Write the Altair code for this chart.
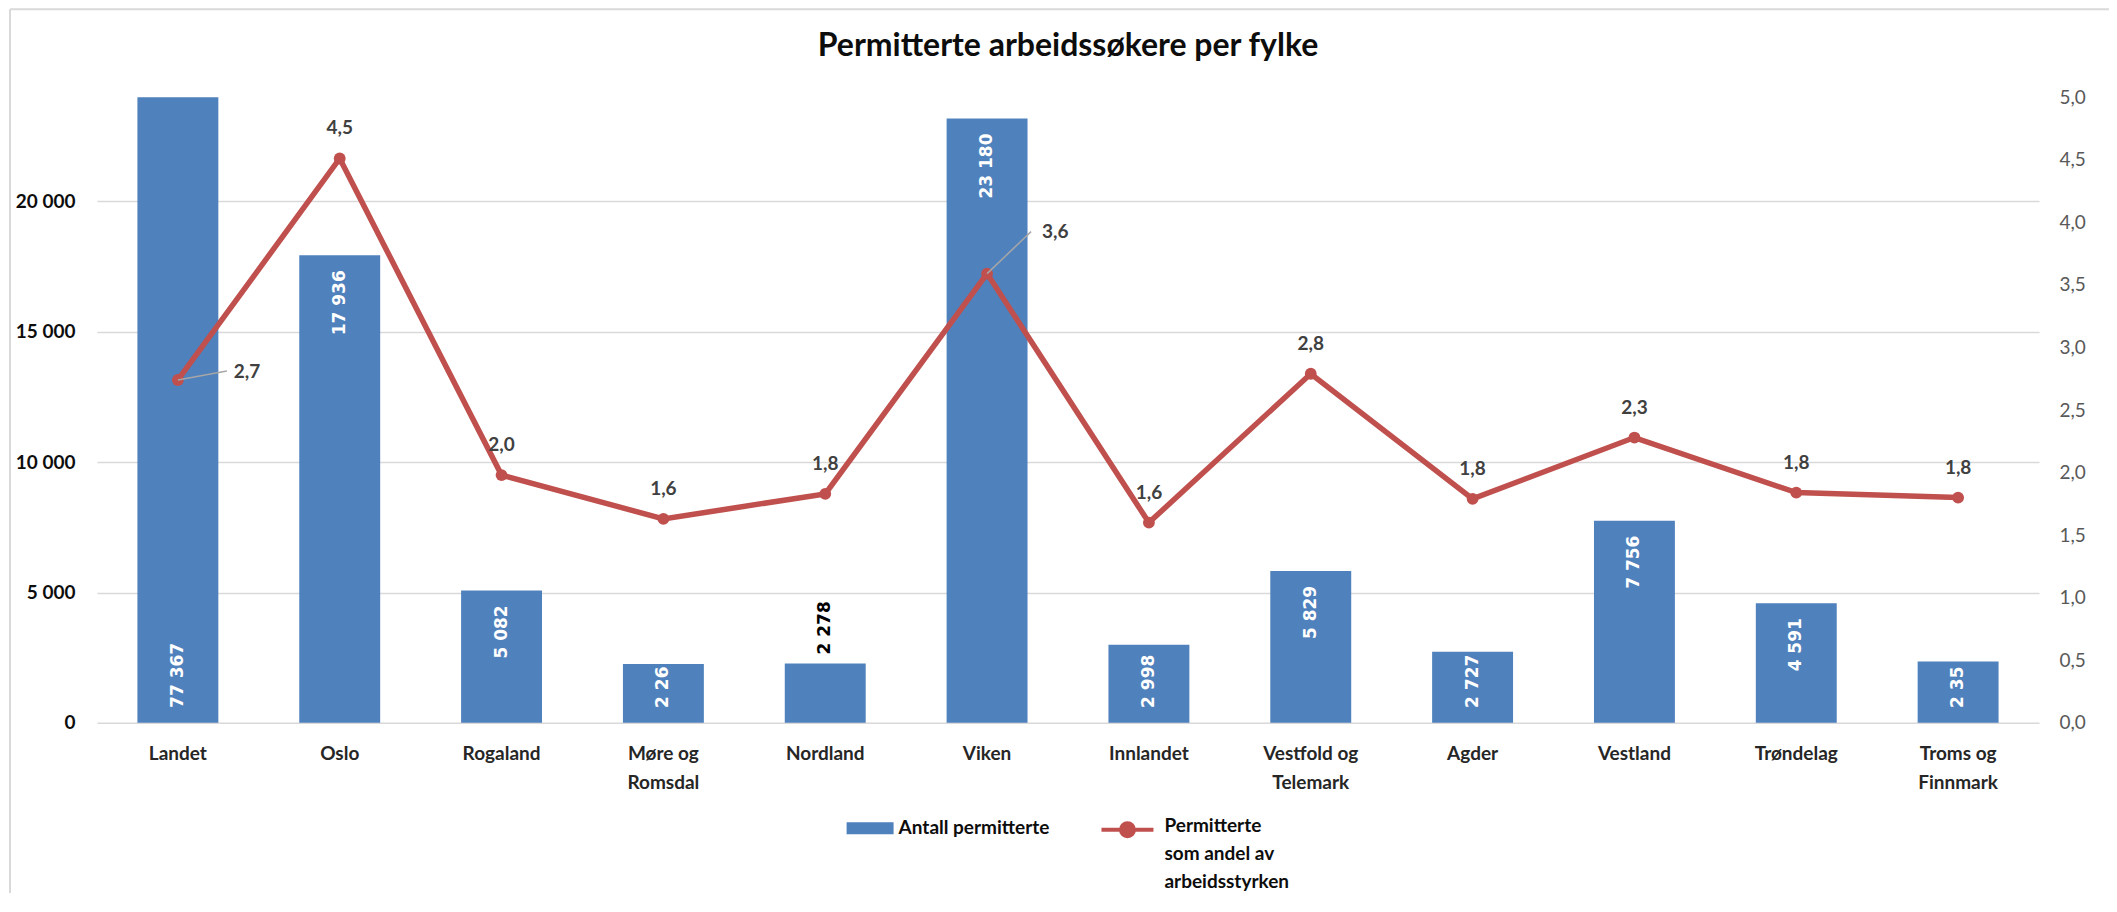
import altair as alt
import pandas as pd

# ---- data ----
categories = ["Landet", "Oslo", "Rogaland", "Møre og\nRomsdal", "Nordland", "Viken",
              "Innlandet", "Vestfold og\nTelemark", "Agder", "Vestland", "Trøndelag",
              "Troms og\nFinnmark"]
antall = [77367, 17936, 5082, 2260, 2278, 23180, 2998, 5829, 2727, 7756, 4591, 2350]
antall_tekst = ["77 367", "17 936", "5 082", "2 26", "2 278", "23 180", "2 998",
                "5 829", "2 727", "7 756", "4 591", "2 35"]
andel = [2.74, 4.51, 1.98, 1.63, 1.83, 3.59, 1.60, 2.79, 1.79, 2.28, 1.84, 1.80]

bar_series = "Antall permitterte"
line_series = "Permitterte som andel av arbeidsstyrken"
line_series_lines = ["Permitterte", "som andel av", "arbeidsstyrken"]
title_text = "Permitterte arbeidssøkere per fylke"
count_ticks = [0, 5000, 10000, 15000, 20000]
pct_ticks = [0, 0.5, 1, 1.5, 2, 2.5, 3, 3.5, 4, 4.5, 5]

BLUE = "#4F81BD"
RED = "#C0504D"
FONT = "Lato"

df = pd.DataFrame({
    "cat": categories,
    "antall": antall,
    "lab": antall_tekst,
    "andel": andel,
    "s1": [bar_series] * len(categories),
    "s2": [line_series] * len(categories),
})

x_axis = alt.Axis(labelExpr="split(datum.label, '\\n')", labelAngle=0, domain=False,
                  ticks=False, labelPadding=22, labelLineHeight=29, labelFont=FONT,
                  labelFontSize=19, labelFontWeight="bold", labelColor="#262626",
                  labelBaseline="top", title=None)
x_enc = alt.X("cat:N", sort=categories,
              scale=alt.Scale(paddingInner=0.5, paddingOuter=0.25), axis=x_axis)

y_count_scale = alt.Scale(domain=[0, 24000], clamp=True, nice=False, zero=True)
y_pct_scale = alt.Scale(domain=[0, 5], nice=False, zero=True)

count_axis = alt.Axis(orient="left", values=count_ticks, title=None,
                      labelExpr="replace(format(datum.value, ','), ',', ' ')",
                      grid=True, gridColor="#D9D9D9", gridWidth=1.5,
                      domain=False, ticks=False, labelPadding=22, labelFont=FONT,
                      labelFontSize=19, labelFontWeight="bold", labelColor="#0D0D0D")
pct_axis = alt.Axis(orient="right", values=pct_ticks, title=None,
                    labelExpr="replace(format(datum.value, '.1f'), '.', ',')",
                    grid=False, domain=False, ticks=False, labelPadding=20,
                    labelFont=FONT, labelFontSize=19, labelColor="#595959")

base = alt.Chart(df)

# ---- bars ----
bars = base.mark_bar().encode(
    x=x_enc,
    y=alt.Y("antall:Q", scale=y_count_scale, axis=count_axis),
    fill=alt.Fill("s1:N", scale=alt.Scale(range=[BLUE]),
                  legend=alt.Legend(orient="none", legendX=750, legendY=708, title=None,
                                    symbolType="M-1,-0.255L1,-0.255L1,0.255L-1,0.255Z",
                                    symbolSize=2209, symbolStrokeWidth=0,
                                    labelFont=FONT, labelFontSize=19, labelFontWeight="bold",
                                    labelColor="#0D0D0D", labelOffset=5, labelLimit=400)),
)

bar_text = dict(angle=270, baseline="middle", font="DejaVu Sans", fontSize=17,
                fontWeight="bold")

lab_top = base.transform_filter(
    "datum.antall <= 24000 && datum.antall >= 3100"
).mark_text(align="right", dx=-15, color="white", **bar_text).encode(
    x=x_enc,
    y=alt.Y("antall:Q", scale=y_count_scale, axis=count_axis),
    text="lab:N",
)

lab_bottom = base.transform_filter(
    "datum.antall > 24000 || (datum.antall < 3100 && datum.cat != 'Nordland')"
).transform_calculate(zero="0").mark_text(
    align="left", dx=15, color="white", **bar_text
).encode(
    x=x_enc,
    y=alt.Y("zero:Q", scale=y_count_scale, axis=count_axis),
    text="lab:N",
)

lab_above = base.transform_filter("datum.cat == 'Nordland'").mark_text(
    align="left", dx=9, color="black", **bar_text
).encode(
    x=x_enc,
    y=alt.Y("antall:Q", scale=y_count_scale, axis=count_axis),
    text="lab:N",
)

bars_layer = alt.layer(bars, lab_top, lab_bottom, lab_above)

# ---- line ----
legend_line_path = ("M-1,-0.58L1,-0.58M-0.25,-0.58A0.25,0.25,0,1,1,0.25,-0.58"
                    "A0.25,0.25,0,1,1,-0.25,-0.58Z")

y_pct = alt.Y("andel:Q", scale=y_pct_scale, axis=pct_axis)

line = base.mark_line(strokeWidth=5.5).encode(
    x=x_enc,
    y=y_pct,
    stroke=alt.Stroke("s2:N", scale=alt.Scale(range=[RED]),
                      legend=alt.Legend(orient="none", legendX=1003, legendY=720,
                                        title=line_series_lines, titleOrient="right",
                                        titleAnchor="start", titleBaseline="top",
                                        titleLineHeight=28, titlePadding=3,
                                        titleFont=FONT, titleFontSize=19,
                                        titleFontWeight="bold", titleColor="#0D0D0D",
                                        titleLimit=400,
                                        symbolType=legend_line_path, symbolSize=2704,
                                        symbolStrokeWidth=4, symbolFillColor=RED,
                                        labelExpr="''", labelOffset=0,
                                        labelFontSize=1)),
)

points = base.mark_circle(size=140, color=RED, opacity=1).encode(x=x_enc, y=y_pct)

pct_base = base.transform_calculate(
    txt="replace(format(datum.andel, '.1f'), '.', ',')")
txt_style = dict(font=FONT, fontSize=19, fontWeight="bold", color="#404040",
                 baseline="middle")

pct_labels = pct_base.transform_filter(
    "datum.cat != 'Landet' && datum.cat != 'Viken'"
).mark_text(align="center", dy=-30, **txt_style).encode(
    x=x_enc, y=y_pct, text="txt:N")

landet_label = pct_base.transform_filter("datum.cat == 'Landet'").mark_text(
    align="left", dx=56, dy=-8, **txt_style).encode(x=x_enc, y=y_pct, text="txt:N")
viken_label = pct_base.transform_filter("datum.cat == 'Viken'").mark_text(
    align="left", dx=55, dy=-42, **txt_style).encode(x=x_enc, y=y_pct, text="txt:N")

landet_leader = base.transform_filter("datum.cat == 'Landet'").mark_rule(
    color="#A6A6A6", strokeWidth=1.5, x2Offset=49, y2Offset=-9).encode(
    x=x_enc, x2="cat:N", y=y_pct, y2="andel:Q")
viken_leader = base.transform_filter("datum.cat == 'Viken'").mark_rule(
    color="#A6A6A6", strokeWidth=1.5, x2Offset=44, y2Offset=-42).encode(
    x=x_enc, x2="cat:N", y=y_pct, y2="andel:Q")

line_layer = alt.layer(line, points, landet_leader, viken_leader,
                       pct_labels, landet_label, viken_label)

# ---- chart border (decoration: left and top edges) ----
one = alt.Data(values=[{}])
border_left = alt.Chart(one).mark_rule(color="#D9D9D9", strokeWidth=2).encode(
    x=alt.value(-87), y=alt.value(-88), y2=alt.value(1100))
border_top = alt.Chart(one).mark_rule(color="#D9D9D9", strokeWidth=2).encode(
    x=alt.value(-87), x2=alt.value(2200), y=alt.value(-88))

chart = alt.layer(border_left, border_top, bars_layer, line_layer).resolve_scale(
    y="independent"
).properties(
    width=1943,
    height=626,
    autosize=alt.AutoSizeParams(type="none"),
    padding={"left": 89, "top": 89, "right": 70, "bottom": 170},
    title=alt.TitleParams(text=title_text, font=FONT, fontSize=32, fontWeight="bold",
                          color="#0D0D0D", anchor="middle", baseline="bottom",
                          offset=-87),
).configure_view(stroke="transparent")

chart.save("out.html", embed_options={"renderer": "svg", "actions": False})
